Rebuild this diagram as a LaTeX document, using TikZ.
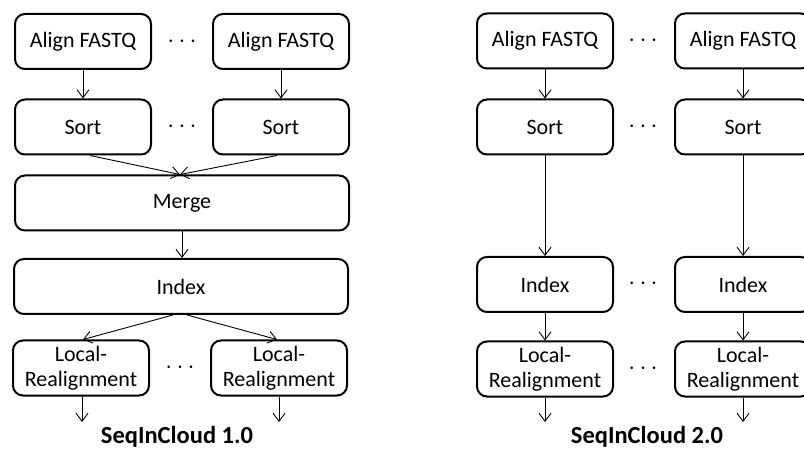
\documentclass[tikz,border=0pt]{standalone}
\usepackage{fontspec}
\setmainfont{Carlito}
\usetikzlibrary{arrows.meta}
\begin{document}
\begin{tikzpicture}[x=1pt,y=-1pt,
  box/.style={draw,line width=2pt,rounded corners=10pt,minimum width=136pt,minimum height=55pt,inner sep=0pt,align=center,font=\fontsize{22}{25}\selectfont},
  wide/.style={box,minimum width=334pt},
  flow/.style={line width=0.9pt,-{Straight Barb[length=8pt,width=12pt,line width=0.9pt]}},
  dots/.style={font=\fontsize{24}{25}\selectfont},
  ttl/.style={font=\fontsize{24.5}{28}\selectfont\bfseries,anchor=base,inner sep=0pt}]
\useasboundingbox (0,0) rectangle (804,449);
\begin{scope}
\clip (0,0) rectangle (804,449);
% left diagram
\node[box] (a1) at (83,41.5) {Align FASTQ};
\node[box] (a2) at (281,41.5) {Align FASTQ};
\node[box] (s1) at (83,127) {Sort};
\node[box] (s2) at (281,127) {Sort};
\node[wide] (m) at (182,203) {Merge};
\node[wide] (ix) at (181,286.5) {Index};
\node[box] (l1) at (81,368) {Local-\\Realignment};
\node[box] (l2) at (279,368) {Local-\\Realignment};
\node[dots] (d1) at (182,42) {$\cdots$};
\node[dots] (d2) at (182,127) {$\cdots$};
\node[dots] (d3) at (180,368) {$\cdots$};
\coordinate (e1) at (82,422);
\coordinate (e2) at (279,422);
\draw[flow] (a1) -- (s1);
\draw[flow] (a2) -- (s2);
\draw[flow] ([xshift=7pt]s1.south) -- ([xshift=-2pt]m.north);
\draw[flow] ([xshift=-4pt]s2.south) -- ([xshift=-2pt]m.north);
\draw[flow] (m) -- (m |- ix.north);
\draw[flow] ([xshift=-8pt]ix.south) -- ([xshift=2pt]l1.north);
\draw[flow] ([xshift=6pt]ix.south) -- ([xshift=-2pt]l2.north);
\draw[flow] (l1.south -| e1) -- (e1);
\draw[flow] (l2.south -| e2) -- (e2);
\node[ttl] (t1) at (177,443) {SeqInCloud 1.0};
% right diagram
\node[box] (ra1) at (545,41) {Align FASTQ};
\node[box] (ra2) at (743,41) {Align FASTQ};
\node[box] (rs1) at (545,127) {Sort};
\node[box] (rs2) at (743,127) {Sort};
\node[box] (ri1) at (545,284.5) {Index};
\node[box] (ri2) at (743,284.5) {Index};
\node[box] (rl1) at (545,369) {Local-\\Realignment};
\node[box] (rl2) at (743,369) {Local-\\Realignment};
\node[dots] (rd1) at (643,41) {$\cdots$};
\node[dots] (rd2) at (643,127) {$\cdots$};
\node[dots] (rd3) at (643,284) {$\cdots$};
\node[dots] (rd4) at (643,369) {$\cdots$};
\coordinate (re1) at (545,422);
\coordinate (re2) at (743,422);
\draw[flow] (ra1) -- (rs1);
\draw[flow] (ra2) -- (rs2);
\draw[flow] (rs1) -- (ri1);
\draw[flow] (rs2) -- (ri2);
\draw[flow] (ri1) -- (rl1);
\draw[flow] (ri2) -- (rl2);
\draw[flow] (rl1) -- (re1);
\draw[flow] (rl2) -- (re2);
\node[ttl] (t2) at (647,443) {SeqInCloud 2.0};
\end{scope}
\end{tikzpicture}
\end{document}
